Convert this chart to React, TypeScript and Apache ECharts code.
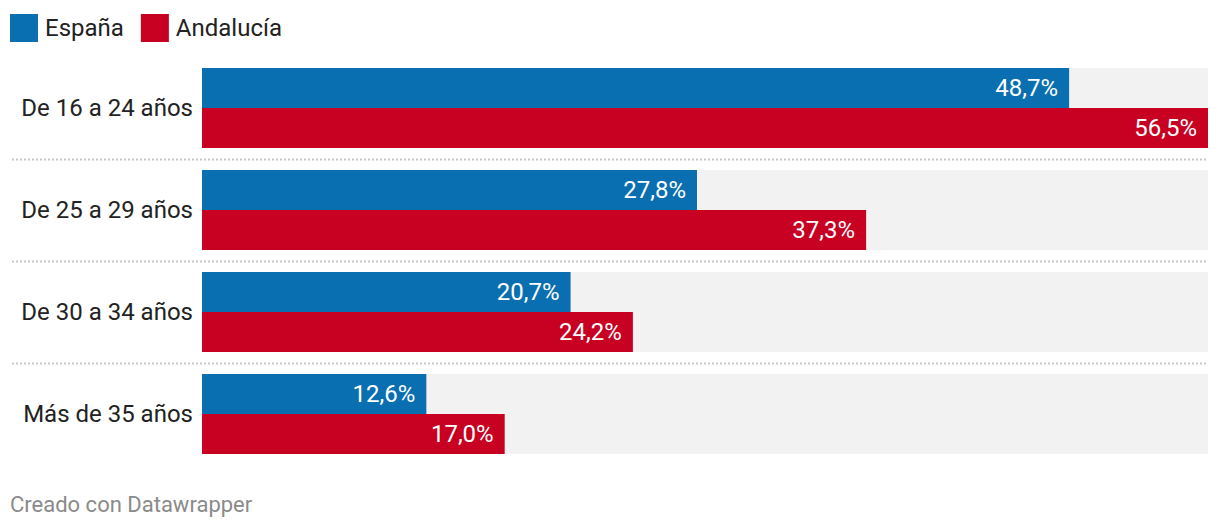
import React, { useEffect, useRef } from "react";
import * as echarts from "echarts";

const categories = ["De 16 a 24 años", "De 25 a 29 años", "De 30 a 34 años", "Más de 35 años"];
const espana = [48.7, 27.8, 20.7, 12.6];
const andalucia = [56.5, 37.3, 24.2, 17.0];
const seriesNames = ["España", "Andalucía"];
const xMax = 56.5;
const footerText = "Creado con Datawrapper";

const BLUE = "#0a6fb0";
const RED = "#c80022";
const FONT = "Roboto";

export default function App() {
  const ref = useRef<HTMLDivElement>(null);
  useEffect(() => {
    document.body.style.margin = "0";
    const chart = echarts.init(ref.current!, null, { renderer: "svg" });
    const fmt = (p: any) => p.value.toFixed(1).replace(".", ",") + "%";
    const label = {
      show: true,
      position: "insideRight" as const,
      distance: 11,
      color: "#ffffff",
      fontSize: 24,
      fontFamily: FONT,
      formatter: fmt,
    };
    chart.setOption({
      animation: false,
      textStyle: { fontFamily: FONT },
      legend: {
        left: 10,
        top: 14,
        padding: 0,
        icon: "rect",
        itemWidth: 28,
        itemHeight: 28,
        itemGap: 17,
        textStyle: { fontSize: 24, color: "#222", fontFamily: FONT, padding: [0, 0, 0, 2] },
        data: seriesNames,
      },
      grid: { left: 202, right: 12, top: 57, bottom: 67, containLabel: false },
      xAxis: { type: "value", min: 0, max: xMax, show: false },
      yAxis: {
        type: "category",
        inverse: true,
        data: categories,
        axisLine: { show: false },
        axisTick: { show: false },
        splitLine: { show: false },
        axisLabel: { fontSize: 24, color: "#222", margin: 9, fontFamily: FONT },
      },
      series: [
        {
          name: seriesNames[0],
          type: "bar",
          data: espana,
          barWidth: 40,
          barGap: "0%",
          itemStyle: { color: BLUE },
          showBackground: true,
          backgroundStyle: { color: "#f2f2f2" },
          label,
        },
        {
          name: seriesNames[1],
          type: "bar",
          data: andalucia,
          barWidth: 40,
          barGap: "0%",
          itemStyle: { color: RED },
          showBackground: true,
          backgroundStyle: { color: "#f2f2f2" },
          label,
        },
      ],
    });
    const centers = categories.map((c) => (chart.convertToPixel({ yAxisIndex: 0 }, c) as number));
    const graphics: any[] = [];
    for (let i = 0; i < centers.length - 1; i++) {
      const y = Math.round((centers[i] + centers[i + 1]) / 2) + 0.5;
      graphics.push({
        type: "line",
        shape: { x1: 12, y1: y, x2: 1208, y2: y },
        style: { stroke: "#c8c8c8", lineWidth: 2, lineDash: [2, 2] },
        silent: true,
      });
    }
    graphics.push({
      type: "text",
      left: 10,
      top: 493,
      style: { text: footerText, fontSize: 22, fill: "#8a8a8a", fontFamily: FONT },
    });
    chart.setOption({ graphic: graphics });
    return () => chart.dispose();
  }, []);
  return <div ref={ref} style={{ width: 1220, height: 532 }} />;
}
